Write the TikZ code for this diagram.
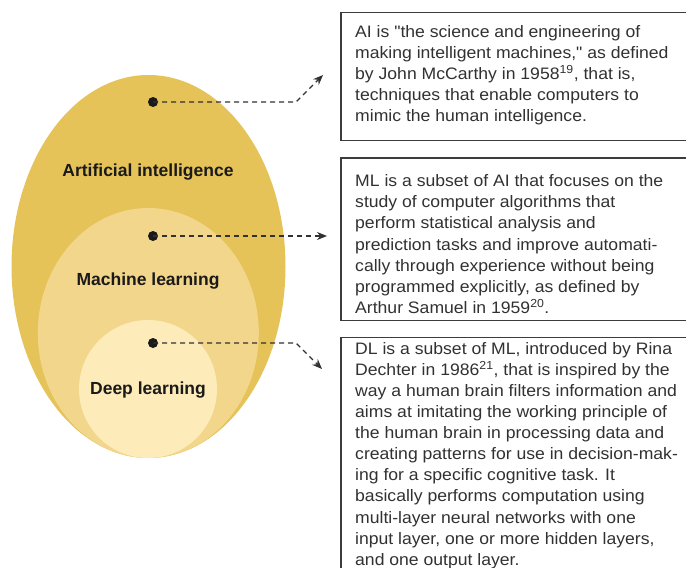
\documentclass[tikz,border=0pt]{standalone}
\usepackage{fontspec}
\setmainfont{Liberation Sans}
\newfontfamily\descfont{Liberation Sans}[FakeStretch=1.06]
\usetikzlibrary{arrows.meta}
\definecolor{aicol}{HTML}{E5C358}
\definecolor{mlcol}{HTML}{F2D68B}
\definecolor{dlcol}{HTML}{FDECB9}
\definecolor{ink}{HTML}{1A1A1A}
\tikzset{
  lbl/.style={font=\fontsize{17.5}{20}\selectfont\bfseries, text=ink, inner sep=0pt},
  dotmark/.style={circle, fill=ink, minimum size=10pt, inner sep=0pt},
  conn/.style={draw=ink!90, line width=1.4pt, dash pattern=on 5pt off 4pt, -{Stealth[length=10pt,width=8pt]}},
  descbox/.style={draw=ink!85, line width=1.3pt},
  desc/.style={anchor=north west, align=left, inner sep=0pt, text=ink!90,
    font=\descfont\fontsize{16.6}{21.1}\selectfont}
}
\begin{document}
\begin{tikzpicture}[x=1pt,y=-1pt]
\useasboundingbox (0,0) rectangle (686,568);
\clip (0,0) rectangle (686,568);
% nested shapes
\fill[aicol] (148.5,266.5) ellipse [x radius=137pt, y radius=191.5pt];
\fill[mlcol] (148.3,333) ellipse [x radius=110.5pt, y radius=125pt];
\fill[dlcol] (148,389) circle [radius=69pt];
% labels
\node[lbl] (ail) at (148,172) {Artificial intelligence};
\node[lbl] (mll) at (148,281) {Machine learning};
\node[lbl] (dll) at (148,390) {Deep learning};
% dots
\node[dotmark] (d1) at (153,102) {};
\node[dotmark] (d2) at (153,236) {};
\node[dotmark] (d3) at (153,343) {};
% arrow targets
\coordinate (k1) at (296,102);
\coordinate (t1) at (323,75);
\coordinate (t2) at (327,236);
\coordinate (k3) at (296,343);
\coordinate (t3) at (322,369);
\draw[conn] (d1.center) -- (k1) -- (t1);
\draw[conn] (d2.center) -- (t2);
\draw[conn] (d3.center) -- (k3) -- (t3);
% boxes
\path[descbox] (341,12.7) rectangle (700,140.7);
\path[descbox] (341,158) rectangle (700,320.7);
\path[descbox] (700,337.7) -- (341,337.7) -- (341,590);
% texts
\node[desc] (b1) at (355,25) {AI is \symbol{34}the science and engineering of\\
making intelligent machines,\symbol{34} as defined\\
by John McCarthy in 1958\textsuperscript{19}, that is,\\
techniques that enable computers to\\
mimic the human intelligence.};
\node[desc] (b2) at (355,174.5) {ML is a subset of AI that focuses on the\\
study of computer algorithms that\\
perform statistical analysis and\\
prediction tasks and improve automati-\\
cally through experience without being\\
programmed explicitly, as defined by\\
Arthur Samuel in 1959\textsuperscript{20}.};
\node[desc] (b3) at (355,342) {\fontsize{16.6}{20.8}\selectfont DL is a subset of ML, introduced by Rina\\
Dechter in 1986\textsuperscript{21}, that is inspired by the\\
way a human brain filters information and\\
aims at imitating the working principle of\\
the human brain in processing data and\\
creating patterns for use in decision-mak-\\
ing for a specific cognitive task. It\\
basically performs computation using\\
multi-layer neural networks with one\\
input layer, one or more hidden layers,\\
and one output layer.};
\end{tikzpicture}
\end{document}
